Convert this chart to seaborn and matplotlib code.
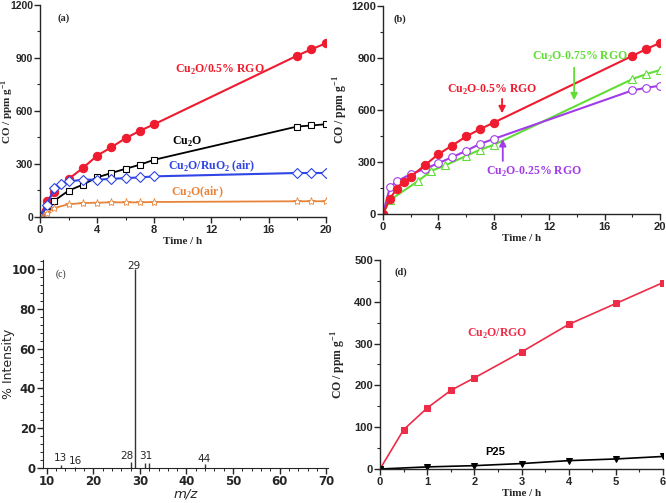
import numpy as np
import pandas as pd
import matplotlib
matplotlib.use("Agg")
import matplotlib.pyplot as plt
from matplotlib.ticker import MultipleLocator
import seaborn as sns

# ---- panel (a) data ----
t_a = [0, 0.5, 1, 2, 3, 4, 5, 6, 7, 8, 18, 19, 20]
rgo05_a = [0, 92, 141, 215, 277, 347, 395, 446, 488, 525, 913, 949, 983]
cu2o_a = [0, 60, 92, 149, 183, 224, 249, 273, 296, 324, 512, 518, 525]
t_ru = [0, 0.5, 1, 1.5, 2, 3, 4, 5, 6, 7, 8, 18, 19, 20]
ruo2_a = [0, 70, 164, 186, 201, 211, 211, 216, 220, 224, 230, 249, 249, 249]
cu2o_air_a = [0, 23, 51, 72, 79, 81, 83, 83, 83, 85, 89, 89, 89]

# ---- panel (b) data ----
t_b = [0, 0.5, 1, 1.5, 2, 3, 4, 5, 6, 7, 8, 18, 19, 20]
rgo05_b = [0, 88, 146, 184, 215, 280, 345, 395, 447, 489, 527, 912, 951, 987]
t_b25 = [0, 0.5, 1, 2, 3, 4, 5, 6, 7, 8, 18, 19, 20]
rgo025_b = [0, 153, 188, 230, 259, 293, 328, 364, 404, 433, 713, 728, 740]
t_b75 = [0, 0.5, 2.5, 3.5, 4.5, 6, 7, 8, 18, 19, 20]
rgo075_b = [0, 80, 188, 249, 280, 335, 370, 399, 778, 807, 830]

# ---- panel (c) data ----
mz = [13, 16, 28, 29, 31, 32, 44]
intensity = [1.5, 0.5, 3, 100, 2.5, 2.5, 2]
peak_labels = ["13", "16", "28", "29", "31", "44"]
peak_label_x = [13, 16.2, 27.3, 28.8, 31.3, 43.8]
peak_label_y = [4.8, 3.5, 6.0, 101.5, 6.0, 4.5]

# ---- panel (d) data ----
t_d = [0, 0.5, 1, 1.5, 2, 3, 4, 5, 6]
rgo_d = [0, 94, 146, 188, 218, 280, 346, 396, 446]
t_p25 = [0, 1, 2, 3, 4, 5, 6]
p25_d = [0, 5, 8, 13, 20, 24, 30]

sns.set_style("ticks")
plt.rcParams["font.family"] = ["Liberation Sans", "DejaVu Sans"]
plt.rcParams["mathtext.fontset"] = "custom"
plt.rcParams["mathtext.rm"] = "Liberation Serif:bold"
plt.rcParams["mathtext.bf"] = "Liberation Serif:bold"

RED = "#EE1C2E"
BLUE = "#2F45E6"
ORANGE = "#E8843A"
GREEN = "#62DD38"
PURPLE = "#A23BE8"
RED_D = "#EE2C48"

serif = dict(family="Liberation Serif", weight="bold")

fig = plt.figure(figsize=(6.66, 5.03), dpi=100)
ax_a = fig.add_axes([0.060, 0.5686, 0.429, 0.4215])
ax_b = fig.add_axes([0.575, 0.5746, 0.416, 0.4135])
ax_c = fig.add_axes([0.0646, 0.0696, 0.428, 0.4135])
ax_d = fig.add_axes([0.5706, 0.0676, 0.425, 0.4155])


def style_time_axis(ax, xmax, xmaj, xmin, ymax, ymaj, ymin, ylab_x, ylab_size=8.5, ytick_size=8):
    ax.set_xlim(0, xmax)
    ax.set_ylim(0, ymax)
    ax.xaxis.set_major_locator(MultipleLocator(xmaj))
    ax.xaxis.set_minor_locator(MultipleLocator(xmin))
    ax.yaxis.set_major_locator(MultipleLocator(ymaj))
    ax.yaxis.set_minor_locator(MultipleLocator(ymin))
    ax.tick_params(which="major", direction="out", length=4, width=1, labelsize=8, pad=2)
    ax.tick_params(axis="y", which="major", pad=1, labelsize=ytick_size)
    ax.tick_params(which="minor", direction="out", length=2, width=0.8)
    for lab in ax.get_xticklabels() + ax.get_yticklabels():
        lab.set_fontweight("bold")
    for s in ["left", "bottom"]:
        ax.spines[s].set_linewidth(1.0)
    sns.despine(ax=ax)
    ax.set_xlabel("Time / h", fontsize=8, labelpad=1, **serif)
    ax.set_ylabel("CO / ppm g$^{-1}$", fontsize=ylab_size, **serif)
    ax.yaxis.set_label_coords(ylab_x, 0.5)


# ---- (a) ----
sns.lineplot(x=t_a, y=rgo05_a, ax=ax_a, color=RED, lw=1.5, marker="o", markersize=6,
             markerfacecolor=RED, markeredgecolor=RED)
sns.lineplot(x=t_a, y=cu2o_a, ax=ax_a, color="black", lw=1.3, marker="s", markersize=4.5,
             markerfacecolor="white", markeredgecolor="black", markeredgewidth=0.8)
sns.lineplot(x=t_ru, y=ruo2_a, ax=ax_a, color=BLUE, lw=1.5, marker="D", markersize=5,
             markerfacecolor="white", markeredgecolor=BLUE, markeredgewidth=0.8)
sns.lineplot(x=t_a, y=cu2o_air_a, ax=ax_a, color=ORANGE, lw=1.3, marker="*", markersize=6,
             markerfacecolor="white", markeredgecolor=ORANGE, markeredgewidth=0.6)
style_time_axis(ax_a, 20, 4, 2, 1200, 300, 150, -0.083, ylab_size=8, ytick_size=7.5)
ax_a.text(1.2, 1110, "(a)", fontsize=7.5, **serif)
ax_a.text(12.6, 832, "Cu$_{2}$O/0.5% RGO", color=RED, fontsize=8.5, ha="center", va="center", **serif)
ax_a.text(10.3, 424, "Cu$_{2}$O", color="black", fontsize=8.5, ha="center", va="center", **serif)
ax_a.text(12.0, 289, "Cu$_{2}$O/RuO$_{2}$ (air)", color=BLUE, fontsize=8.5, ha="center", va="center", **serif)
ax_a.text(11.0, 141, "Cu$_{2}$O(air)", color=ORANGE, fontsize=8.5, ha="center", va="center", **serif)

# ---- (b) ----
sns.lineplot(x=t_b75, y=rgo075_b, ax=ax_b, color=GREEN, lw=1.5, marker="^", markersize=5.5,
             markerfacecolor="white", markeredgecolor=GREEN, markeredgewidth=0.8)
sns.lineplot(x=t_b25, y=rgo025_b, ax=ax_b, color=PURPLE, lw=1.5, marker="o", markersize=5.5,
             markerfacecolor="white", markeredgecolor=PURPLE, markeredgewidth=0.8)
sns.lineplot(x=t_b, y=rgo05_b, ax=ax_b, color=RED, lw=1.5, marker="o", markersize=6,
             markerfacecolor=RED, markeredgecolor=RED)
style_time_axis(ax_b, 20, 4, 2, 1200, 300, 150, -0.119)
ax_b.text(0.75, 1110, "(b)", fontsize=7.5, **serif)
ax_b.text(7.9, 715, "Cu$_{2}$O-0.5% RGO", color=RED, fontsize=8.5, ha="center", va="center", **serif)
ax_b.text(14.2, 905, "Cu$_{2}$O-0.75% RGO", color=GREEN, fontsize=8.5, ha="center", va="center", **serif)
ax_b.text(10.9, 240, "Cu$_{2}$O-0.25% RGO", color=PURPLE, fontsize=8.5, ha="center", va="center", **serif)
arrow = dict(arrowstyle="-|>", lw=1.3, mutation_scale=10)
ax_b.annotate("", xy=(8.6, 565), xytext=(8.6, 680), arrowprops=dict(color=RED, **arrow))
ax_b.annotate("", xy=(13.8, 640), xytext=(13.8, 860), arrowprops=dict(color=GREEN, **arrow))
ax_b.annotate("", xy=(8.65, 448), xytext=(8.65, 290), arrowprops=dict(color=PURPLE, **arrow))

# ---- (c) ----
ax_c.vlines(mz, 0, intensity, colors="#333333", lw=1.0)
ax_c.set_xlim(9.2, 70.4)
ax_c.set_ylim(0, 104.5)
ax_c.xaxis.set_major_locator(MultipleLocator(10))
ax_c.xaxis.set_minor_locator(MultipleLocator(2))
ax_c.yaxis.set_major_locator(MultipleLocator(20))
ax_c.yaxis.set_minor_locator(MultipleLocator(4))
ax_c.tick_params(which="major", direction="out", length=4, width=1, labelsize=8.5, pad=1)
ax_c.tick_params(which="minor", direction="out", length=2, width=0.7)
for lab in ax_c.get_xticklabels() + ax_c.get_yticklabels():
    lab.set_fontweight("bold")
    lab.set_family("DejaVu Sans")
sns.despine(ax=ax_c)
ax_c.set_ylabel("% Intensity", fontsize=9, family="DejaVu Sans")
ax_c.yaxis.set_label_coords(-0.098, 0.5)
ax_c.set_xlabel("m/z", fontsize=9.5, family="DejaVu Sans", style="italic", labelpad=0)
for lx, ly, lt in zip(peak_label_x, peak_label_y, peak_labels):
    ax_c.text(lx, ly, lt, fontsize=7.5, family="DejaVu Sans", ha="center", va="center")
ax_c.text(12.0, 96, "(c)", fontsize=7, family="Liberation Serif")

# ---- (d) ----
sns.lineplot(x=t_d, y=rgo_d, ax=ax_d, color=RED_D, lw=1.2, marker="s", markersize=5,
             markerfacecolor=RED_D, markeredgecolor=RED_D)
sns.lineplot(x=t_p25, y=p25_d, ax=ax_d, color="black", lw=1.2, marker="v", markersize=5,
             markerfacecolor="black", markeredgecolor="black")
style_time_axis(ax_d, 6, 1, 0.5, 500, 100, 50, -0.113)
ax_d.text(0.3, 465, "(d)", fontsize=7.5, **serif)
ax_d.text(2.48, 323, "Cu$_{2}$O/RGO", color=RED_D, fontsize=8.5, ha="center", va="center", **serif)
ax_d.text(2.45, 40, "P25", color="black", fontsize=8, weight="bold", ha="center", va="center")

fig.savefig("out.png", dpi=100)
